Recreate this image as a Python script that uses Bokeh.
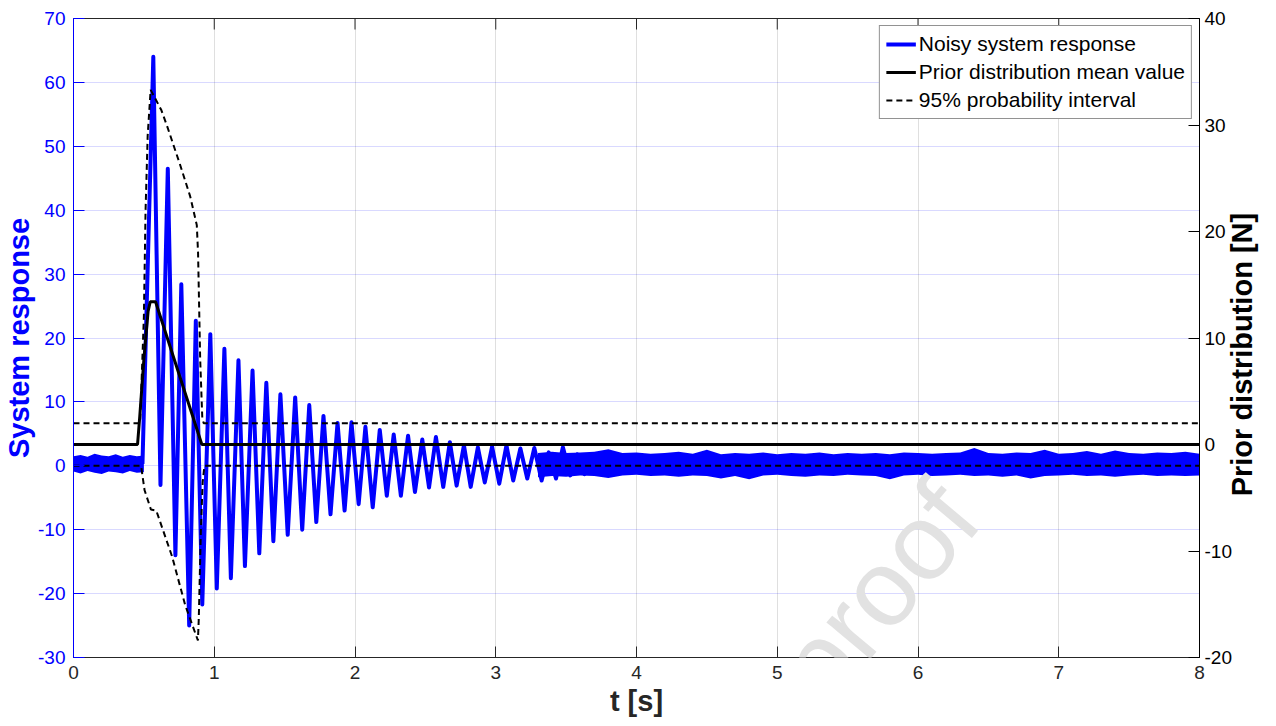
from bokeh.plotting import figure
from bokeh.models import Range1d, LinearAxis, FixedTicker, Legend, LegendItem, Label
from bokeh.embed import file_html
from bokeh.resources import INLINE
import math

# ---------------- data ----------------
# oscillating system response: extrema (time [s], value)
resp_t = [0.49, 0.567, 0.618, 0.670, 0.724, 0.766, 0.822, 0.869, 0.915, 0.972, 1.018,
          1.072, 1.118, 1.172, 1.218, 1.272, 1.320, 1.370, 1.420, 1.470, 1.522,
          1.575, 1.625, 1.675, 1.725, 1.776, 1.826, 1.876, 1.926, 1.975, 2.026,
          2.074, 2.126, 2.176, 2.226, 2.275, 2.326, 2.377, 2.426, 2.478, 2.526,
          2.575, 2.627, 2.674, 2.722, 2.774, 2.822, 2.873, 2.922, 2.974, 3.025,
          3.076, 3.124, 3.175, 3.224, 3.274, 3.326, 3.376, 3.428, 3.477, 3.530,
          3.580, 3.630, 3.680]
resp_v = [0.3, 64.0, -3.0, 46.5, -14.0, 28.4, -25.0, 22.7, -21.7, 20.6, -19.2,
          18.3, -17.6, 16.5, -15.7, 14.9, -13.7, 13.0, -11.8, 11.2, -10.8,
          10.7, -10.0, 9.5, -8.8, 7.8, -7.6, 6.7, -7.0, 6.8, -6.0,
          6.1, -6.5, 5.6, -4.7, 4.9, -4.7, 4.7, -4.1, 4.1, -3.4,
          4.5, -3.3, 3.7, -3.1, 3.2, -3.3, 2.9, -2.6, 3.0, -2.8,
          3.2, -2.3, 2.7, -2.0, 2.8, -2.3, 2.1, -2.0, 2.9, -1.5,
          1.8, -1.3, 0.3]

# measurement-noise band before the excitation
pre_t = [0.0, 0.05, 0.10, 0.15, 0.20, 0.25, 0.30, 0.35, 0.40, 0.45, 0.50]
pre_hi = [1.5, 1.7, 1.4, 1.9, 1.6, 1.5, 1.8, 1.4, 1.7, 1.5, 1.6]
pre_lo = [-0.9, -1.2, -0.8, -1.1, -1.3, -0.9, -1.0, -1.2, -0.8, -1.1, -1.0]

# measurement-noise band after the oscillation has decayed
post_t = [3.3, 3.4, 3.5, 3.6, 3.7, 3.8, 3.9, 4.0, 4.1, 4.2, 4.3, 4.4, 4.5, 4.6, 4.7, 4.8,
          4.9, 5.0, 5.1, 5.2, 5.3, 5.4, 5.5, 5.6, 5.7, 5.8, 5.9, 6.0, 6.1, 6.2, 6.3, 6.4,
          6.5, 6.6, 6.7, 6.8, 6.9, 7.0, 7.1, 7.2, 7.3, 7.4, 7.5, 7.6, 7.7, 7.8, 7.9, 8.0]
post_hi = [2.0, 2.2, 2.0, 2.1, 2.2, 2.6, 2.0, 2.1, 1.9, 2.0, 2.2, 1.9, 2.5, 1.8, 2.0, 1.9,
           2.1, 1.8, 2.0, 1.9, 2.1, 1.8, 2.0, 1.9, 2.0, 1.8, 2.1, 2.0, 1.9, 2.0, 2.1, 2.8,
           2.0, 1.9, 2.1, 2.0, 2.5, 1.9, 2.0, 2.3, 1.9, 2.4, 2.0, 1.9, 2.1, 2.0, 2.2, 1.9]
post_lo = [-1.8, -1.6, -1.7, -1.5, -1.6, -1.9, -1.5, -1.4, -1.6, -1.5, -1.7, -1.5, -1.6, -2.0, -1.6, -2.1,
           -1.5, -1.4, -1.6, -1.7, -1.5, -1.6, -1.4, -1.5, -1.6, -2.1, -1.5, -1.4, -1.6, -1.5, -1.4, -1.6,
           -1.5, -1.7, -1.5, -2.0, -1.6, -1.5, -1.4, -1.6, -1.5, -1.7, -1.5, -1.4, -1.6, -1.5, -1.6, -1.5]

# prior distribution of the force [N] (right axis)
mean_t = [0.0, 0.455, 0.47, 0.50, 0.53, 0.545, 0.583, 0.912, 8.0]
mean_v = [0.0, 0.0, 2.5, 8.0, 12.5, 13.4, 13.4, 0.0, 0.0]

upper_t = [0.0, 0.473, 0.500, 0.512, 0.527, 0.548, 0.624, 0.665, 0.759, 0.829, 0.876,
           0.885, 0.900, 0.915, 0.925, 8.0]
upper_v = [2.0, 2.0, 12.0, 22.0, 29.0, 33.3, 31.4, 29.9, 26.2, 23.3, 20.6,
           18.0, 8.0, 2.5, 2.0, 2.0]

lower_t = [0.0, 0.48, 0.505, 0.550, 0.588, 0.700, 0.794, 0.884, 0.890, 0.905, 0.918, 0.930, 8.0]
lower_v = [-2.0, -2.0, -4.3, -6.1, -6.2, -10.5, -15.1, -18.4, -16.4, -8.0, -3.5, -2.0, -2.0]

x_ticks = [0, 1, 2, 3, 4, 5, 6, 7, 8]
left_ticks = [-30, -20, -10, 0, 10, 20, 30, 40, 50, 60, 70]
right_ticks = [-20, -10, 0, 10, 20, 30, 40]

# ---------------- figure ----------------
FONT = "Liberation Sans"
DARK = "#262626"
BLUE = "#0000ff"
TICK_PX = 11
FRAME_H = 639

p = figure(width=1276, height=726, output_backend="svg", toolbar_location=None,
           x_range=Range1d(x_ticks[0], x_ticks[-1]),
           y_range=Range1d(left_ticks[0], left_ticks[-1]),
           min_border_left=72, min_border_right=75, min_border_top=18, min_border_bottom=69)
p.extra_y_ranges = {"prior": Range1d(right_ticks[0], right_ticks[-1])}
p.background_fill_color = "white"
p.border_fill_color = "white"
p.outline_line_color = DARK
p.outline_line_width = 1

# grids
p.xgrid.grid_line_color = DARK
p.xgrid.grid_line_alpha = 0.15
p.ygrid.grid_line_color = BLUE
p.ygrid.grid_line_alpha = 0.15
p.xgrid.ticker = FixedTicker(ticks=x_ticks)
p.ygrid.ticker = FixedTicker(ticks=left_ticks)


def hyphen_labels(ticks):
    return {t: str(t) for t in ticks}


# x axis
xa = p.xaxis[0]
xa.ticker = FixedTicker(ticks=x_ticks)
xa.major_label_overrides = hyphen_labels(x_ticks)
xa.axis_label = "t [s]"
xa.axis_label_text_font = FONT
xa.axis_label_text_font_style = "bold"
xa.axis_label_text_font_size = "29px"
xa.axis_label_text_color = DARK
xa.axis_label_standoff = 3
xa.major_label_text_font = FONT
xa.major_label_text_font_size = "19px"
xa.major_label_text_color = DARK
xa.major_label_standoff = 8
xa.major_tick_in = TICK_PX
xa.major_tick_out = 0
xa.minor_tick_line_color = None
xa.axis_line_color = DARK
xa.major_tick_line_color = DARK

# left axis
ya = p.yaxis[0]
ya.ticker = FixedTicker(ticks=left_ticks)
ya.major_label_overrides = hyphen_labels(left_ticks)
ya.axis_label = "System response"
ya.axis_label_text_font = FONT
ya.axis_label_text_font_style = "bold"
ya.axis_label_text_font_size = "29px"
ya.axis_label_text_color = BLUE
ya.axis_label_standoff = 0
ya.major_label_text_font = FONT
ya.major_label_text_font_size = "19px"
ya.major_label_text_color = BLUE
ya.major_label_standoff = 8
ya.major_tick_in = TICK_PX
ya.major_tick_out = 0
ya.minor_tick_line_color = None
ya.axis_line_color = BLUE
ya.major_tick_line_color = BLUE

# right axis
RIGHT_TITLE = "Prior distribution [N]"
ra = LinearAxis(y_range_name="prior", ticker=FixedTicker(ticks=right_ticks))
ra.major_label_overrides = hyphen_labels(right_ticks)
ra.major_label_text_font = FONT
ra.major_label_text_font_size = "19px"
ra.major_label_text_color = "black"
ra.major_label_standoff = 5
ra.major_tick_in = TICK_PX
ra.major_tick_out = 0
ra.minor_tick_line_color = None
ra.axis_line_color = "black"
ra.major_tick_line_color = "black"
ra.axis_label_text_font = FONT
ra.axis_label_text_font_style = "bold"
ra.axis_label_text_font_size = "29px"
ra.axis_label_text_color = "black"
ra.axis_label_standoff = 7
ra.axis_label_orientation = math.pi / 2   # read bottom-to-top like the reference
if "axis_label_align" in LinearAxis.properties():
    ra.axis_label_align = "start"
    ra.axis_label = "\u00a0" * 20 + RIGHT_TITLE
else:
    ra.axis_label = RIGHT_TITLE
p.add_layout(ra, "right")

# watermark
wm = Label(x=5.71, y=-19.8, text="proof", angle=50, angle_units="deg",
           text_font=FONT, text_font_size="108px", text_color="#e2e2e2",
           text_align="center", text_baseline="middle", level="annotation")
p.add_layout(wm)

# data glyphs
p.varea(x=pre_t, y1=pre_lo, y2=pre_hi, fill_color=BLUE)
p.varea(x=post_t, y1=post_lo, y2=post_hi, fill_color=BLUE)
r_resp = p.line(resp_t, resp_v, line_color=BLUE, line_width=4, line_join="round")

r_mean = p.line(mean_t, mean_v, y_range_name="prior", line_color="black", line_width=3)
r_up = p.line(upper_t, upper_v, y_range_name="prior", line_color="black",
              line_width=2, line_dash="6 4")
p.line(lower_t, lower_v, y_range_name="prior", line_color="black",
       line_width=2, line_dash="6 4")

# inward ticks along the top edge of the box
y_top = left_ticks[-1]
tick_len = TICK_PX * (left_ticks[-1] - left_ticks[0]) / FRAME_H
p.segment(x0=x_ticks, y0=[y_top] * len(x_ticks), x1=x_ticks,
          y1=[y_top - tick_len] * len(x_ticks), line_color=DARK, line_width=1)

legend = Legend(items=[
    LegendItem(label="Noisy system response", renderers=[r_resp]),
    LegendItem(label="Prior distribution mean value", renderers=[r_mean]),
    LegendItem(label="95% probability interval", renderers=[r_up]),
], location="top_right")
legend.label_text_font = FONT
legend.label_text_font_size = "21px"
legend.label_text_color = "black"
legend.glyph_width = 30
legend.glyph_height = 24
legend.label_height = 24
legend.label_standoff = 3
legend.spacing = 4
legend.padding = 6
legend.margin = 7
legend.border_line_color = DARK
legend.border_line_width = 1
legend.background_fill_color = "white"
legend.background_fill_alpha = 1
p.add_layout(legend)

open("out.html", "w").write(file_html(p, INLINE))
